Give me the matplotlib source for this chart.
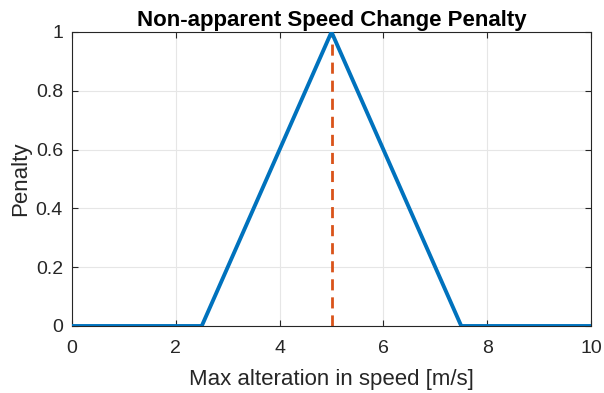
import matplotlib
matplotlib.use("Agg")
import matplotlib.pyplot as plt

x_vals = [0, 2.5, 5, 7.5, 10]
penalty = [0, 0, 1, 0, 0]
ref_x = [5, 5]
ref_y = [0, 1]
xticks = [0, 2, 4, 6, 8, 10]
yticks = [0, 0.2, 0.4, 0.6, 0.8, 1]
ytick_labels = ["0", "0.2", "0.4", "0.6", "0.8", "1"]

plt.rcParams['font.family'] = ['Liberation Sans', 'DejaVu Sans']

fig = plt.figure(figsize=(6.04, 3.93), dpi=100)
ax = fig.add_axes([72/604, 1-326/393, (591-72)/604, (326-32)/393])

ax.plot(ref_x, ref_y, color='#D95319', lw=2.0, ls=(0, (4, 2.5)), zorder=2)
ax.plot(x_vals, penalty, color='#0072BD', lw=2.8, zorder=3, solid_joinstyle='miter')

ax.set_xlim(0, 10)
ax.set_ylim(0, 1)
ax.set_xticks(xticks)
ax.set_yticks(yticks)
ax.set_yticklabels(ytick_labels)
ax.grid(True, color='#e6e6e6', lw=0.8)
ax.set_axisbelow(True)
for s in ax.spines.values():
    s.set_color('#262626')
    s.set_linewidth(0.8)
ax.tick_params(direction='in', length=4, width=0.8, colors='#262626',
               labelsize=14, labelcolor='#262626', top=True, right=True)
ax.tick_params(axis='x', pad=10)
ax.tick_params(axis='y', pad=6.5)
ax.set_xlabel('Max alteration in speed [m/s]', fontsize=16, color='#262626', labelpad=9)
ax.set_ylabel('Penalty', fontsize=16, color='#262626', labelpad=3)
ax.set_title('Non-apparent Speed Change Penalty', fontsize=16, fontweight='bold', pad=4)

fig.savefig('out.png', dpi=100)
